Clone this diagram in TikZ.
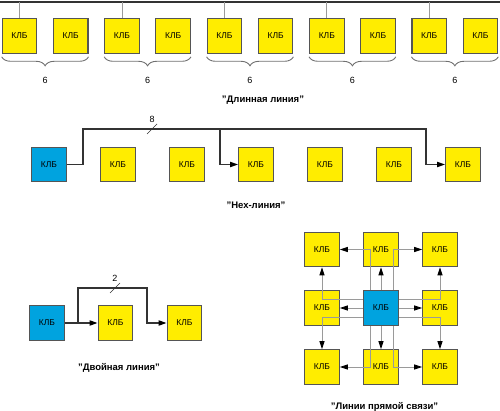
\documentclass[tikz,border=0pt]{standalone}
\usepackage{fontspec}
\setmainfont{Liberation Sans}
\usetikzlibrary{arrows.meta,calc,decorations.pathreplacing}
\definecolor{klbyellow}{HTML}{FFED00}
\definecolor{klbblue}{HTML}{00A3DF}
\definecolor{klbedge}{HTML}{555555}
\definecolor{wire}{HTML}{333333}
\definecolor{thinwire}{HTML}{9A9A9A}
\definecolor{bracegray}{HTML}{707070}
\tikzset{
  klb/.style={draw=klbedge, line width=1.1pt, fill=klbyellow, minimum size=34.5pt,
    inner sep=0pt, font=\fontsize{8.5}{10}\selectfont},
  klbmain/.style={klb, fill=klbblue},
  caption/.style={font=\fontsize{9.5}{11}\selectfont\bfseries, inner sep=0pt},
  numlabel/.style={font=\fontsize{9}{10}\selectfont, inner sep=0pt},
  bus/.style={draw=wire, line width=1.6pt},
  busarrow/.style={bus, -{Triangle[length=8pt,width=5pt,color=black]}},
  tie/.style={draw=thinwire, line width=0.7pt},
  gridarrow/.style={draw=thinwire, line width=0.9pt, -{Triangle[length=8pt,width=5pt,color=black]}},
  bracestyle/.style={draw=bracegray, line width=0.9pt,
    decorate, decoration={brace, mirror, amplitude=9pt}},
  tick/.style={draw=wire, line width=0.7pt}
}
\begin{document}
\begin{tikzpicture}[x=1pt,y=-1pt]
\useasboundingbox (0,0) rectangle (500,411);

% ---------- "Длинная линия" ----------
\coordinate (TL) at (0,2);
\coordinate (TR) at (500,2);
\draw[bus] (TL) -- (TR);
\foreach \i in {1,...,10} {
  \node[klb] (L\i) at ({19.5+51.22*(\i-1)},36) {КЛБ};
}
\foreach \a/\b in {1/2,3/4,5/6,7/8,9/10} {
  \draw[tie] (L\a.north) -- (L\a.north |- TL);
  \draw[bracestyle] ($(L\a.south west)+(0,3)$) -- ($(L\b.south east)+(0,3)$);
  \node[numlabel] (N\a) at ($(L\a.south)!0.5!(L\b.south)+(0,27)$) {6};
}
\node[caption] (C1) at (263,100) {"Длинная линия"};

% ---------- "Hex-линия" ----------
\node[klbmain] (H1) at (49,164.5) {КЛБ};
\foreach \i in {2,...,7} {
  \node[klb] (H\i) at ({49+69*(\i-1)},164.5) {КЛБ};
}
\coordinate (hA) at (83,129);
\coordinate (hB) at (426,129);
\coordinate (hC) at (220,129);
\draw[busarrow] (H1.east) -| (hA) -- (hB) |- (H7.west);
\draw[busarrow] (hC) |- (H4.west);
\coordinate (t8a) at (147,134);
\coordinate (t8b) at (157,124);
\draw[tick] (t8a) -- (t8b);
\node[numlabel] (N8) at (152,119) {8};
\node[caption] (C2) at (256,205) {"Нех-линия"};

% ---------- "Двойная линия" ----------
\node[klbmain] (D1) at (47,323) {КЛБ};
\node[klb] (D2) at (115.5,323) {КЛБ};
\node[klb] (D3) at (184.5,323) {КЛБ};
\draw[busarrow] (D1.east) -- (D2.west);
\coordinate (dA) at (78,323);
\coordinate (dB) at (78,288);
\coordinate (dC) at (147,288);
\draw[busarrow] (dA) -- (dB) -- (dC) |- (D3.west);
\coordinate (t2a) at (110,293);
\coordinate (t2b) at (120,283);
\draw[tick] (t2a) -- (t2b);
\node[numlabel] (N2) at (115,278) {2};
\node[caption] (C3) at (119,368) {"Двойная линия"};

% ---------- "Линии прямой связи" ----------
\foreach \r/\y in {1/249.5,2/308,3/367} {
  \foreach \c/\x in {1/322,2/381,3/440} {
    \node[klb] (G\r\c) at (\x,\y) {КЛБ};
  }
}
\node[klbmain] at (G22) {КЛБ};
\draw[gridarrow] (G22.north) -- (G12.south);
\draw[gridarrow] (G22.south) -- (G32.north);
\draw[gridarrow] (G22.west) -- (G21.east);
\draw[gridarrow] (G22.east) -- (G23.west);
\draw[gridarrow] ($(G22.west)+(0,-9)$) -| (G11.south);
\draw[gridarrow] ($(G22.west)+(0,9)$) -| (G31.north);
\draw[gridarrow] ($(G22.east)+(0,-9)$) -| (G13.south);
\draw[gridarrow] ($(G22.east)+(0,9)$) -| (G33.north);
\draw[gridarrow] ($(G22.north)+(-11,0)$) |- (G11.east);
\draw[gridarrow] ($(G22.north)+(12,0)$) |- (G13.west);
\draw[gridarrow] ($(G22.south)+(-11,0)$) |- (G31.east);
\draw[gridarrow] ($(G22.south)+(12,0)$) |- (G33.west);
\node[caption] (C4) at (384.5,407) {"Линии прямой связи"};
\end{tikzpicture}
\end{document}
